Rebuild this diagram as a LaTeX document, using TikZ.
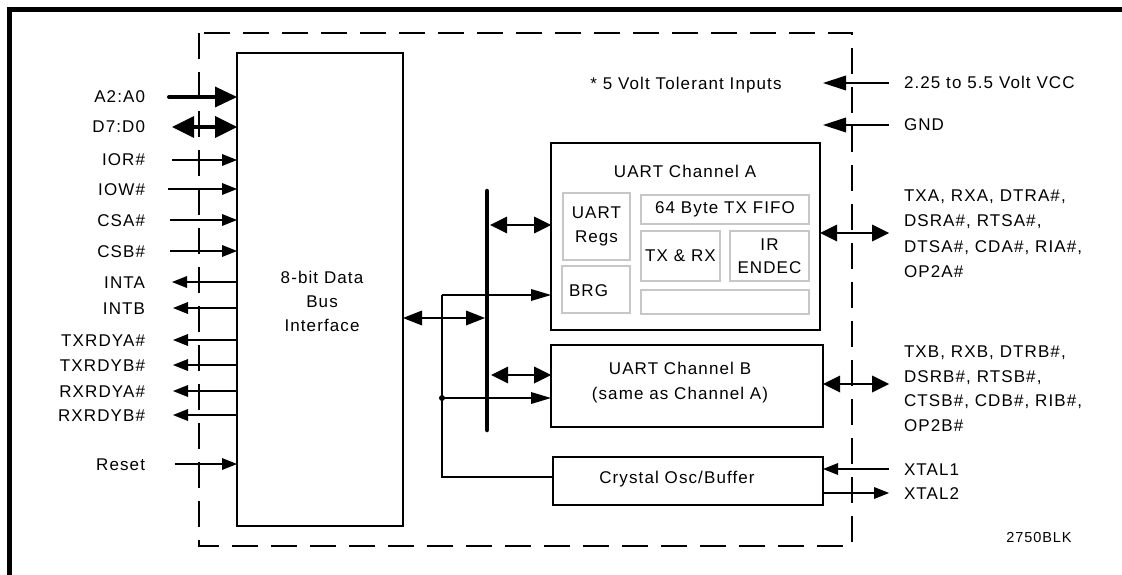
\documentclass[tikz,border=0pt]{standalone}
\usepackage{fontspec}
\setmainfont{Liberation Sans}[LetterSpace=6.5]
\usetikzlibrary{arrows.meta,calc}
\begin{document}
\begin{tikzpicture}[x=1pt,y=-1pt,
  every node/.style={inner sep=0pt, outer sep=0pt},
  font=\fontsize{17}{24}\selectfont,
  lbl/.style={text height=12pt, text depth=0pt},
  blk/.style={draw, line width=1.8pt},
  gblk/.style={draw=black!22, line width=1.8pt, align=center},
  sigin/.style={line width=1.3pt, -{Triangle[length=15pt,width=12pt,line width=0pt]}},
  busin/.style={line width=4pt, -{Triangle[length=22pt,width=21pt,line width=0pt]}},
  busbi/.style={line width=4pt, {Triangle[length=22pt,width=22pt,line width=0pt]}-{Triangle[length=22pt,width=22pt,line width=0pt]}},
  midbi/.style={line width=2.3pt, {Triangle[length=17pt,width=17pt,line width=0pt]}-{Triangle[length=17pt,width=17pt,line width=0pt]}},
  ifbi/.style={line width=1.5pt, {Triangle[length=19pt,width=15pt,line width=0pt]}-{Triangle[length=19pt,width=15pt,line width=0pt]}},
  clk/.style={line width=1.3pt, -{Triangle[length=20pt,width=12pt,line width=0pt]}},
  pwr/.style={line width=1.3pt, -{Triangle[length=23pt,width=15pt,line width=0pt]}},
  thinln/.style={line width=1.3pt}
]
\useasboundingbox (0,0) rectangle (1122,575);
% frame
\draw[line width=5pt] (1122,9.5) -- (9.5,9.5) -- (9.5,575);
% dashed chip outline
\draw[line width=1.5pt, dash pattern=on 26pt off 13pt] (199,33) rectangle (852,546);

% main blocks
\node[blk, minimum width=166pt, minimum height=473pt] (bif) at (320,289.5) {};
\node[align=center] (biftxt) at (322,301) {8-bit Data\\Bus\\Interface};

\node[blk, minimum width=269pt, minimum height=187pt] (uartA) at (685.5,236.5) {};
\node (uartAt) at (685,171.5) {UART Channel A};
\node[gblk, minimum width=67pt, minimum height=67pt] (regs) at (596.5,226.5) {UART\\Regs};
\node[gblk, minimum width=68pt, minimum height=47pt] (brg) at (596,289.5) {};
\node[lbl, anchor=west] (brgt) at (569,290) {BRG};
\node[gblk, minimum width=168pt, minimum height=29pt] (fifo) at (725,209.5) {64 Byte TX FIFO};
\node[gblk, minimum width=79pt, minimum height=50pt] (txrx) at (680.5,256) {TX \& RX};
\node[gblk, minimum width=79pt, minimum height=50pt, font=\fontsize{17}{23}\selectfont] (ir) at (769.5,256) {IR\\ENDEC};
\node[gblk, minimum width=168pt, minimum height=24pt] (spare) at (725,302) {};

\node[blk, minimum width=272pt, minimum height=82pt] (uartB) at (687,386) {};
\node[align=center, font=\fontsize{17}{25}\selectfont] (uartBt) at (680,382.5) {UART Channel B\\(same as Channel A)};

\node[blk, minimum width=270pt, minimum height=48pt] (xtal) at (688,481) {};
\node[lbl] (xtalt) at (677,477) {Crystal Osc/Buffer};

% internal bus
\coordinate (bustop) at (487,191);
\coordinate (busbot) at (487,430);
\draw[line width=4.5pt, line cap=round] (bustop) -- (busbot);
\coordinate (busif) at (485,318);
\draw[ifbi] (busif -| bif.east) -- (busif);
\coordinate (busA) at (490,225);
\draw[midbi] (busA) -- (busA -| uartA.west);
\coordinate (busB) at (491,375);
\draw[midbi] (busB) -- (busB -| uartB.west);

% clock distribution
\coordinate (clkA) at (442,295);
\coordinate (clkB) at (442,398);
\coordinate (clkC) at (442,477);
\draw[thinln] (clkC -| xtal.west) -- (clkC) -- (clkA);
\draw[clk] (clkA) -- (clkA -| uartA.west);
\draw[clk] (clkB) -- (clkB -| uartB.west);
\fill (clkB) circle (3pt);

% left side signals
\node[lbl, anchor=east] (lA)  at (145,97)  {A2:A0};
\node[lbl, anchor=east] (lD)  at (145,127) {D7:D0};
\node[lbl, anchor=east] (lR)  at (145,160) {IOR\#};
\node[lbl, anchor=east] (lW)  at (145,189) {IOW\#};
\node[lbl, anchor=east] (lCA) at (145,220) {CSA\#};
\node[lbl, anchor=east] (lCB) at (145,251) {CSB\#};
\node[lbl, anchor=east] (lIA) at (145,282) {INTA};
\node[lbl, anchor=east] (lIB) at (145,308) {INTB};
\node[lbl, anchor=east] (lTA) at (145,340) {TXRDYA\#};
\node[lbl, anchor=east] (lTB) at (145,365) {TXRDYB\#};
\node[lbl, anchor=east] (lRA) at (145,391) {RXRDYA\#};
\node[lbl, anchor=east] (lRB) at (145,415) {RXRDYB\#};
\node[lbl, anchor=east] (lRS) at (145,464) {Reset};

\draw[busin, line cap=round] ([xshift=24pt]lA.east) -- (lA -| bif.west);
\draw[busbi] ([xshift=27pt]lD.east) -- (lD -| bif.west);
\draw[sigin] ([xshift=27pt]lR.east) -- (lR -| bif.west);
\draw[sigin] ([xshift=23pt]lW.east) -- (lW -| bif.west);
\draw[sigin] ([xshift=25pt]lCA.east) -- (lCA -| bif.west);
\draw[sigin] ([xshift=25pt]lCB.east) -- (lCB -| bif.west);
\draw[sigin] (lIA -| bif.west) -- ([xshift=27pt]lIA.east);
\draw[sigin] (lIB -| bif.west) -- ([xshift=28pt]lIB.east);
\draw[sigin] (lTA -| bif.west) -- ([xshift=28pt]lTA.east);
\draw[sigin] (lTB -| bif.west) -- ([xshift=28pt]lTB.east);
\draw[sigin] (lRA -| bif.west) -- ([xshift=28pt]lRA.east);
\draw[sigin] (lRB -| bif.west) -- ([xshift=28pt]lRB.east);
\draw[sigin] ([xshift=30pt]lRS.east) -- (lRS -| bif.west);

% right side
\node (note) at (686,85) {* 5 Volt Tolerant Inputs};
\node[lbl, anchor=west] (vcc) at (904,83) {2.25 to 5.5 Volt VCC};
\node[lbl, anchor=west] (gnd) at (904,125) {GND};
\coordinate (pVcc) at (823,83);
\coordinate (pGnd) at (823,125);
\draw[pwr] ([xshift=-15pt]vcc.west) -- (pVcc);
\draw[pwr] ([xshift=-15pt]gnd.west) -- (pGnd);

\node[anchor=west, align=left, font=\fontsize{17}{25.5}\selectfont] (sigA) at (904,233.5)
  {TXA, RXA, DTRA\#,\\DSRA\#, RTSA\#,\\DTSA\#, CDA\#, RIA\#,\\OP2A\#};
\coordinate (pA) at (889,233);
\draw[midbi] (pA -| uartA.east) -- (pA);

\node[anchor=west, align=left, font=\fontsize{17}{24.5}\selectfont] (sigB) at (904,388.5)
  {TXB, RXB, DTRB\#,\\DSRB\#, RTSB\#,\\CTSB\#, CDB\#, RIB\#,\\OP2B\#};
\coordinate (pB) at (889,384);
\draw[midbi] (pB -| uartB.east) -- (pB);

\node[lbl, anchor=west] (x1) at (904,469) {XTAL1};
\node[lbl, anchor=west] (x2) at (904,493) {XTAL2};
\draw[sigin] ([xshift=-15pt]x1.west) -- (x1 -| xtal.east);
\draw[sigin] (x2 -| xtal.east) -- ([xshift=-15pt]x2.west);

\node[font=\fontsize{14.5}{16}\selectfont] (code) at (1039,538) {2750BLK};
\end{tikzpicture}
\end{document}
